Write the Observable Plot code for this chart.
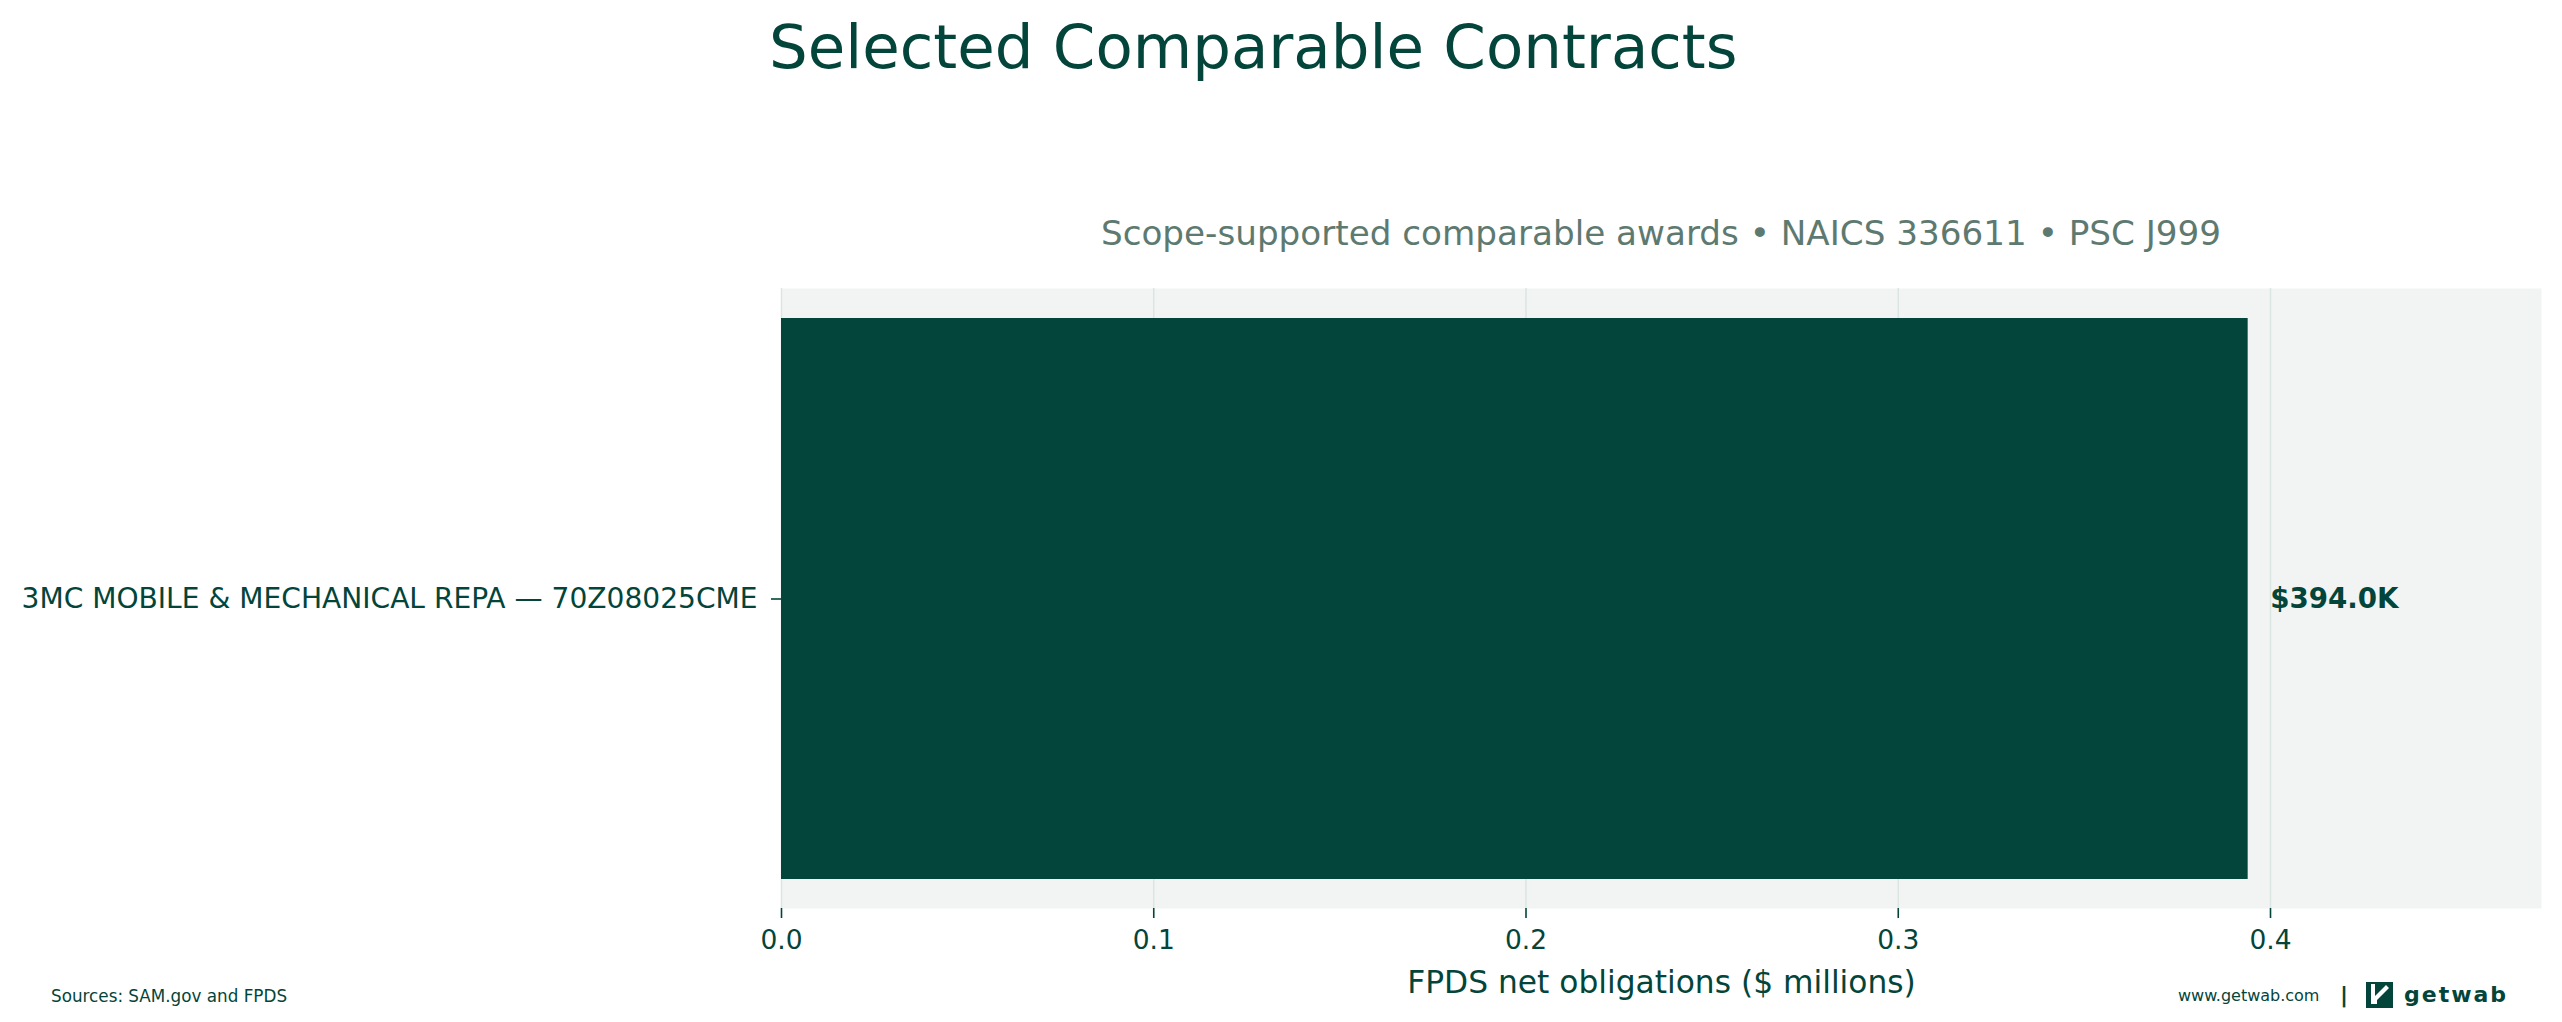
<!DOCTYPE html>
<html>
<head>
<meta charset="utf-8">
<script src="https://cdn.jsdelivr.net/npm/d3@7"></script>
<script src="https://cdn.jsdelivr.net/npm/@observablehq/plot@0.6"></script>
<style>
  html, body { margin: 0; padding: 0; background: #ffffff; }
  body { font-family: "DejaVu Sans", sans-serif; }
  #page { position: relative; width: 2562px; height: 1022px; overflow: hidden; background: #fff; }
  .abs { position: absolute; white-space: nowrap; line-height: 1; }
  #title { left: 769px; top: 16px; font-size: 61px; color: #03453a; }
  #subtitle { left: 781px; width: 1760px; text-align: center; top: 216px; font-size: 34.2px; color: #5e7a70; }
  #chart { position: absolute; left: 0; top: 260px; }
  #sources { left: 51px; top: 988px; font-size: 16.8px; color: #03453a; }
  #site { left: 2178px; top: 988px; font-size: 16px; color: #03453a; }
  #sep { left: 2340px; top: 984px; font-size: 22px; font-weight: bold; color: #03453a; }
  #logo { left: 2366px; top: 980px; }
</style>
</head>
<body>
<div id="page">
  <div id="title" class="abs">Selected Comparable Contracts</div>
  <div id="subtitle" class="abs">Scope-supported comparable awards • NAICS 336611 • PSC J999</div>
  <div id="chart"></div>
  <div id="sources" class="abs">Sources: SAM.gov and FPDS</div>
  <div id="site" class="abs">www.getwab.com</div>
  <div id="sep" class="abs">|</div>
  <svg id="logo" class="abs" width="160" height="32" viewBox="0 0 160 32">
    <rect x="0" y="2" width="27" height="26" fill="#03453a"/>
    <path d="M5,4 L9,4 L9,16 L20,5 L23,8 L11,20 L11,24 L5,24 Z" fill="#ffffff"/>
    <text x="38" y="22" font-family="DejaVu Sans" font-weight="bold" font-size="22" letter-spacing="2" fill="#03453a">getwab</text>
  </svg>
</div>
<script>
// ---- data ----
const categories = ["3MC MOBILE & MECHANICAL REPA — 70Z08025CME"];
const values = [0.394];
const valueLabels = ["$394.0K"];
const xTicks = [0, 0.1, 0.2, 0.3, 0.4];
const xTitle = "FPDS net obligations ($ millions)";

// ---- style ----
const dark = "#03453a";
const bg = "#f2f4f3";
const grid = "#dbe6e2";

const data = categories.map((c, i) => ({label: c, value: values[i], text: valueLabels[i]}));
const xMax = d3.max(values) * 1.2;

const chart = Plot.plot({
  width: 2562,
  height: 740,
  marginTop: 28,
  marginBottom: 92,
  marginLeft: 781,
  marginRight: 21,
  style: {fontFamily: "DejaVu Sans, sans-serif", color: dark, background: "transparent"},
  x: {domain: [0, xMax]},
  y: {domain: categories, padding: 0.05},
  marks: [
    Plot.frame({fill: bg, stroke: null}),
    Plot.gridX(xTicks, {stroke: grid, strokeOpacity: 1, strokeWidth: 1.5}),
    Plot.barX(data, {x: "value", y: "label", fill: dark}),
    Plot.text(data, {x: "value", y: "label", text: "text", textAnchor: "start", dx: 22, fontWeight: "bold", fontSize: 27.7, fill: dark}),
    Plot.axisX(xTicks, {tickSize: 10, tickPadding: 12, fontSize: 26.5, color: dark, strokeWidth: 1.6, tickFormat: d3.format(".1f"), label: null}),
    Plot.axisY({tickSize: 10, tickPadding: 14, fontSize: 28.1, color: dark, strokeWidth: 1.6, label: null}),
    Plot.text([xTitle], {frameAnchor: "bottom", lineAnchor: "bottom", dy: 84, fontSize: 31.3, fill: dark, text: d => d})
  ]
});
document.getElementById("chart").appendChild(chart);
</script>
</body>
</html>
